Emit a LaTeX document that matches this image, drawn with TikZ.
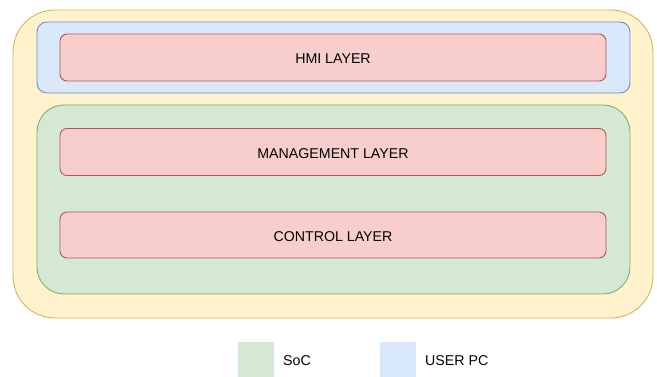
\documentclass[tikz,border=0pt]{standalone}
\usepackage{fontspec}
\setmainfont{Liberation Sans}
\definecolor{yelFill}{HTML}{FFF2CC}\definecolor{yelLine}{HTML}{D6B656}
\definecolor{bluFill}{HTML}{DAE8FC}\definecolor{bluLine}{HTML}{6C8EBF}
\definecolor{grnFill}{HTML}{D5E8D4}\definecolor{grnLine}{HTML}{82B366}
\definecolor{redFill}{HTML}{F8CECC}\definecolor{redLine}{HTML}{B85450}
\tikzset{
  panel/.style={draw, line width=0.9pt, rectangle},
  layer/.style={panel, fill=redFill, draw=redLine, rounded corners=7pt,
    font=\fontsize{14.2}{16}\selectfont, text height=13pt, text depth=0pt},
  legtext/.style={anchor=west, font=\fontsize{14.2}{16}\selectfont, inner sep=0pt}
}
\begin{document}
\begin{tikzpicture}[x=1pt, y=-1pt]
  \useasboundingbox (0,0) rectangle (657,377);
  % outer container
  \draw[panel, fill=yelFill, draw=yelLine, rounded corners=42pt] (13,10) rectangle (653,318);
  % user PC region
  \draw[panel, fill=bluFill, draw=bluLine, rounded corners=10pt] (37,22) rectangle (630,93);
  % SoC region
  \draw[panel, fill=grnFill, draw=grnLine, rounded corners=27pt] (37,105) rectangle (630,294);
  % layers
  \node[layer, minimum width=546pt, minimum height=47pt] (hmi) at (333,57.5) {HMI LAYER};
  \node[layer, minimum width=546pt, minimum height=47pt] (mgmt) at (333,152) {MANAGEMENT LAYER};
  \node[layer, minimum width=546pt, minimum height=46pt] (ctrl) at (333,235) {CONTROL LAYER};
  % legend
  \fill[grnFill] (238,342) rectangle (274,377);
  \node[legtext] (soc) at (283,360.5) {SoC};
  \fill[bluFill] (380,342) rectangle (416,377);
  \node[legtext] (pc) at (425,360.5) {USER PC};
\end{tikzpicture}
\end{document}
